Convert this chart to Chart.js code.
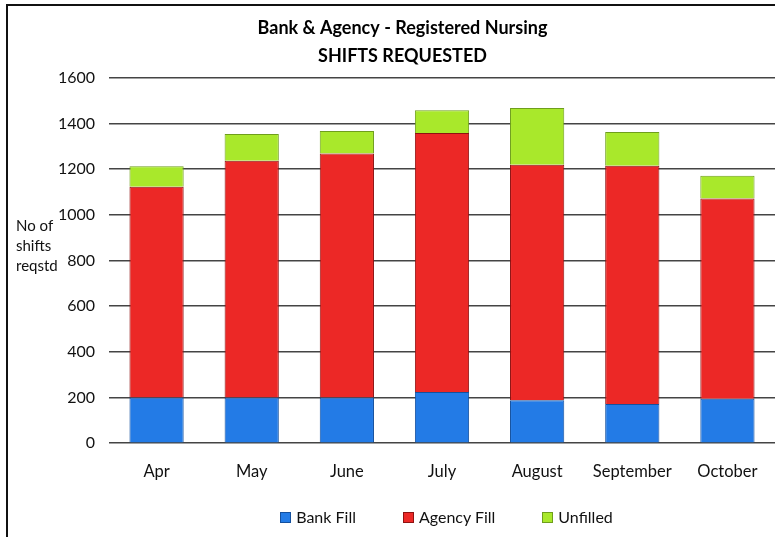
<!DOCTYPE html>
<html>
<head>
<meta charset="utf-8">
<script src="https://cdn.jsdelivr.net/npm/chart.js@4.4.1/dist/chart.umd.min.js"></script>
<style>
  html, body { margin: 0; padding: 0; background: #fff; }
  .wrap { position: relative; width: 775px; height: 537px; overflow: hidden; font-family: Lato, "Open Sans", sans-serif; }
  .frame {
    position: absolute; left: 6px; top: 4px; width: 900px; height: 700px;
    border-left: 2px solid #111; border-top: 2px solid #111;
  }
  canvas { position: absolute; left: 0; top: 0; }
  .legend {
    position: absolute; left: 118px; right: 0; top: 507px;
    display: flex; justify-content: center; gap: 47px;
    font-size: 16px; line-height: 20px; color: #111;
  }
  .legend span { display: inline-flex; align-items: center; }
  .legend i {
    display: inline-block; width: 9px; height: 9px; margin-right: 5px;
    border: 1px solid; box-sizing: content-box;
  }
</style>
</head>
<body>
<div class="wrap">
  <div class="frame"></div>
  <canvas id="chart" width="775" height="537"></canvas>
  <div class="legend" id="legend"></div>
</div>
<script>
const months = ['Apr', 'May', 'June', 'July', 'August', 'September', 'October'];
const bankFill = [200, 200, 200, 224, 188, 172, 195];
const agencyFill = [923, 1037, 1068, 1134, 1031, 1043, 876];
const unfilled = [90, 117, 99, 100, 249, 148, 100];
const yTicks = [0, 200, 400, 600, 800, 1000, 1200, 1400, 1600];

const FONT = 'Lato, "Open Sans", sans-serif';

// y axis caption drawn flat, like the original
const yCaption = {
  id: 'yCaption',
  afterDraw(chart) {
    const ctx = chart.ctx;
    ctx.save();
    ctx.font = '15px ' + FONT;
    ctx.fillStyle = '#111';
    ctx.textAlign = 'left';
    ctx.textBaseline = 'middle';
    ['No of', 'shifts', 'reqstd'].forEach((t, i) => ctx.fillText(t, 16, 226 + i * 20));
    ctx.restore();
  }
};

const chart = new Chart(document.getElementById('chart'), {
  type: 'bar',
  data: {
    labels: months,
    datasets: [
      {
        label: 'Bank Fill',
        data: bankFill,
        backgroundColor: '#237be6',
        borderColor: '#14509e',
        borderWidth: 1
      },
      {
        label: 'Agency Fill',
        data: agencyFill,
        backgroundColor: '#ec2826',
        borderColor: '#8e1212',
        borderWidth: 1
      },
      {
        label: 'Unfilled',
        data: unfilled,
        backgroundColor: '#a9e82b',
        borderColor: '#6f9e1c',
        borderWidth: 1
      }
    ]
  },
  options: {
    responsive: false,
    animation: false,
    layout: { padding: { left: 30, right: 0, top: 0, bottom: 44 } },
    datasets: {
      bar: { categoryPercentage: 1, barPercentage: 0.57 }
    },
    plugins: {
      title: {
        display: true,
        text: ['Bank & Agency - Registered Nursing', 'SHIFTS REQUESTED'],
        color: '#000',
        font: { family: FONT, size: 18, weight: 'bold', lineHeight: 1.55 },
        padding: { top: 14, bottom: 8 }
      },
      legend: { display: false },
      tooltip: { enabled: false }
    },
    scales: {
      x: {
        stacked: true,
        grid: { display: false },
        border: { display: false },
        ticks: { color: '#111', font: { family: FONT, size: 16.5 }, padding: 11 }
      },
      y: {
        stacked: true,
        min: 0,
        max: 1600,
        afterBuildTicks(axis) {
          axis.ticks = yTicks.map(v => ({ value: v }));
        },
        afterFit(axis) {
          axis.width = 79;
        },
        grid: { color: '#444', lineWidth: 1.5, drawTicks: false },
        border: { display: false },
        ticks: {
          color: '#111',
          font: { family: FONT, size: 16 },
          padding: 14,
          callback: v => String(v)
        }
      }
    }
  },
  plugins: [yCaption]
});

// legend as html, built from the datasets
const legendEl = document.getElementById('legend');
chart.data.datasets.forEach(ds => {
  const item = document.createElement('span');
  const box = document.createElement('i');
  box.style.background = ds.backgroundColor;
  box.style.borderColor = ds.borderColor;
  item.appendChild(box);
  item.appendChild(document.createTextNode(ds.label));
  legendEl.appendChild(item);
});
</script>
</body>
</html>
